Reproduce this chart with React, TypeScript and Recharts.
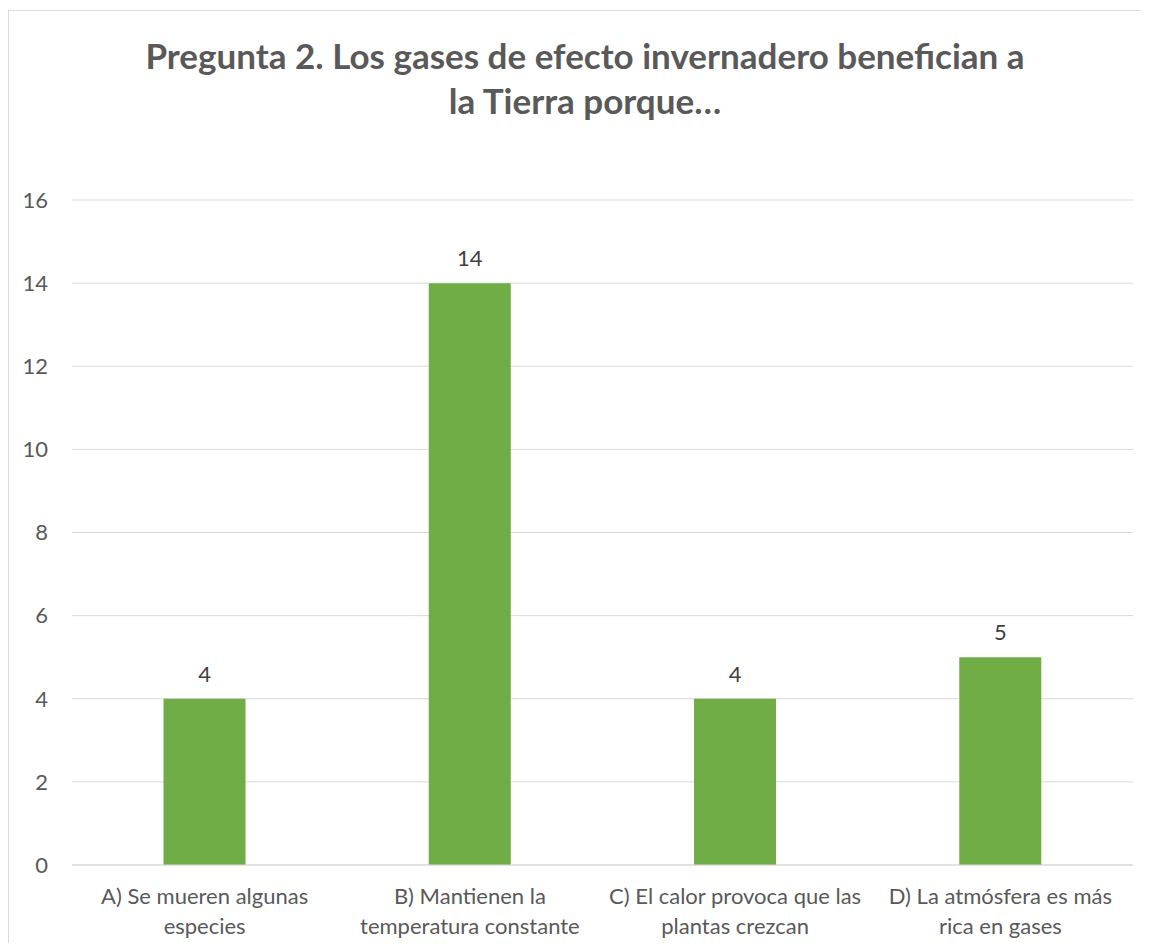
import { Bar, BarChart, CartesianGrid, LabelList, XAxis, YAxis } from "recharts";

const categories = [
  "A) Se mueren algunas\nespecies",
  "B) Mantienen la\ntemperatura constante",
  "C) El calor provoca que las\nplantas crezcan",
  "D) La atmósfera es más\nrica en gases",
];
const responses = [4, 14, 4, 5];
const yTicks = [0, 2, 4, 6, 8, 10, 12, 14, 16];

const data = categories.map((name, i) => ({ name, value: responses[i] }));

const FONT = "Lato, 'Open Sans', sans-serif";
const TEXT = "#595959";

function CategoryTick(props: any) {
  const { x, y, payload } = props;
  const lines = String(payload.value).split("\n");
  return (
    <g transform={`translate(${x},${y})`}>
      {lines.map((line, i) => (
        <text
          key={i}
          x={0}
          y={39 + i * 30}
          textAnchor="middle"
          fill={TEXT}
          fontSize={22}
          fontFamily={FONT}
        >
          {line}
        </text>
      ))}
    </g>
  );
}

export default function App() {
  return (
    <div style={{ position: "relative", width: 1141, height: 935, overflow: "hidden", background: "#fff" }}>
      <div
        style={{
          position: "absolute",
          left: 0,
          top: 2,
          width: 1141,
          height: 940,
          borderTop: "1px solid #d9d9d9",
          borderLeft: "1px solid #d9d9d9",
        }}
      />
      <div
        style={{
          position: "absolute",
          left: 0,
          top: 25,
          width: 1154,
          textAlign: "center",
          fontFamily: FONT,
          fontWeight: 700,
          fontSize: 35,
          lineHeight: "45px",
          color: TEXT,
        }}
      >
        Pregunta 2. Los gases de efecto invernadero benefician a
        <br />
        la Tierra porque…
      </div>
      <div style={{ position: "absolute", left: 0, top: 0 }}>
        <BarChart
          width={1141}
          height={935}
          data={data}
          margin={{ top: 192, right: 16, left: 0, bottom: 0 }}
          barCategoryGap="34.5%"
        >
          <CartesianGrid vertical={false} stroke="#d9d9d9" strokeWidth={1} />
          <XAxis
            dataKey="name"
            height={78}
            axisLine={{ stroke: "#d9d9d9" }}
            tickLine={false}
            tickSize={0}
            tickMargin={0}
            interval={0}
            tick={<CategoryTick />}
          />
          <YAxis
            width={64}
            domain={[0, 16]}
            ticks={yTicks}
            axisLine={false}
            tickLine={false}
            tickSize={0}
            tickMargin={24}
            tick={{ fill: TEXT, fontSize: 22, fontFamily: FONT }}
          />
          <Bar dataKey="value" fill="#70AD47" isAnimationActive={false}>
            <LabelList
              dataKey="value"
              position="top"
              offset={17}
              fill="#404040"
              fontSize={22}
              fontFamily={FONT}
            />
          </Bar>
        </BarChart>
      </div>
    </div>
  );
}
